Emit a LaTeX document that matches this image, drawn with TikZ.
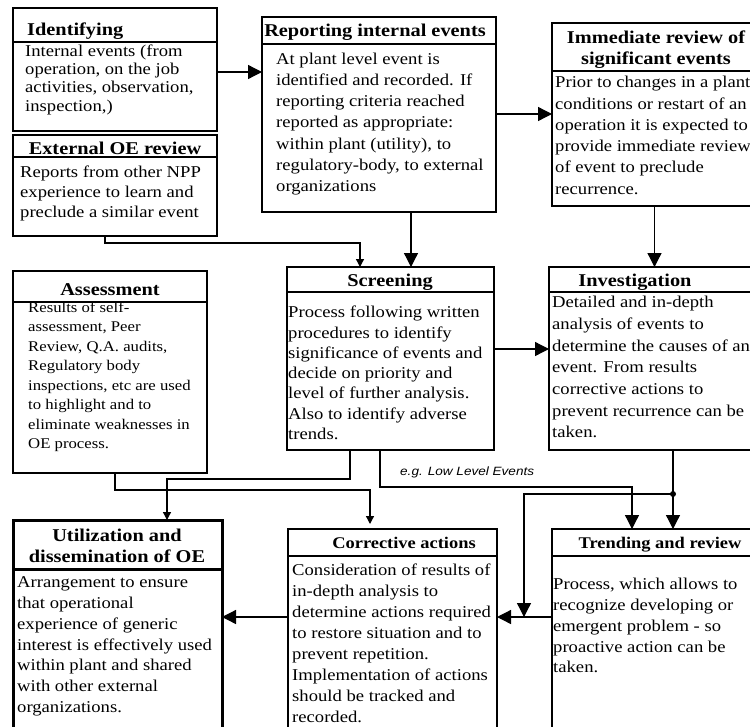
\documentclass[tikz,border=0pt]{standalone}
\usepackage{fontspec}
\setmainfont{Liberation Serif}[FakeStretch=1.13]
\setsansfont{Liberation Sans}[FakeStretch=1.13]
\usetikzlibrary{arrows.meta}
\newcommand\myfs[2]{\fontsize{#1}{#2}\selectfont}
\tikzset{
 box/.style={draw, line width=1.3pt, rectangle, anchor=north west, inner sep=0pt, outer sep=0pt},
 hd/.style={font=\myfs{18}{21.5}\bfseries, inner sep=0pt},
 hds/.style={font=\myfs{16.3}{21.5}\bfseries, inner sep=0pt},
 bd/.style={inner sep=0pt, anchor=north west, align=left},
 big/.style={-{Triangle[length=14pt,width=14pt]}, line width=1.3pt},
 small/.style={-{Triangle[length=8pt,width=8pt]}, line width=1.3pt},
 hrule/.style={line width=1.3pt}
}
\begin{document}
\begin{tikzpicture}[x=1pt,y=-1pt]
\useasboundingbox (0,0) rectangle (750,726);
\fill[white] (0,0) rectangle (750,726);
\clip (0,0) rectangle (750,726);
% boxes
\node[box, minimum width=204pt, minimum height=123pt] (ident) at (13,8) {};
\node[box, minimum width=204pt, minimum height=101pt] (ext) at (13,135) {};
\node[box, minimum width=234pt, minimum height=195pt] (rep) at (262,17) {};
\node[box, minimum width=208pt, minimum height=183pt] (imm) at (552,23) {};
\node[box, minimum width=207pt, minimum height=183pt] (scr) at (287,267) {};
\node[box, minimum width=211pt, minimum height=183pt] (inv) at (549,267) {};
\node[box, minimum width=194pt, minimum height=202pt] (ass) at (13,271) {};
\node[box, line width=3pt, minimum width=209pt, minimum height=211pt] (util) at (13,520) {};
\node[box, minimum width=209pt, minimum height=211pt] (corr) at (288,529) {};
\node[box, minimum width=208pt, minimum height=211pt] (trend) at (552,529) {};
% header rules
\draw[hrule] ([yshift=-34pt]ident.north west) -- ([yshift=-34pt]ident.north east);
\draw[hrule] ([yshift=-22pt]ext.north west) -- ([yshift=-22pt]ext.north east);
\draw[hrule] ([yshift=-27pt]rep.north west) -- ([yshift=-27pt]rep.north east);
\draw[hrule] ([yshift=-48pt]imm.north west) -- ([yshift=-48pt]imm.north east);
\draw[hrule] ([yshift=-25pt]scr.north west) -- ([yshift=-25pt]scr.north east);
\draw[hrule] ([yshift=-25pt]inv.north west) -- ([yshift=-25pt]inv.north east);
\draw[hrule] ([yshift=-31pt]ass.north west) -- ([yshift=-31pt]ass.north east);
\draw[line width=3pt] ([yshift=-49pt]util.north west) -- ([yshift=-49pt]util.north east);
\draw[hrule] ([yshift=-27pt]corr.north west) -- ([yshift=-27pt]corr.north east);
\draw[hrule] ([yshift=-27pt]trend.north west) -- ([yshift=-27pt]trend.north east);
% headers
\node[hd, anchor=base west] (identH) at (27,35) {Identifying};
\node[hd, anchor=base] (extH) at (115,154) {External OE review};
\node[hd, anchor=base] (repH) at (375,36) {Reporting internal events};
\node[hd, anchor=north, align=center] (immH) at (656,28) {\strut Immediate review of\\significant events};
\node[hd, anchor=base] (scrH) at (390,286) {Screening};
\node[hd, anchor=base] (invH) at (635,286) {Investigation};
\node[hd, anchor=base] (assH) at (110,295) {Assessment};
\node[hd, anchor=north, align=center] (utilH) at (117,526) {\strut Utilization and\\dissemination of OE};
\node[hds, anchor=base] (corrH) at (404,548) {Corrective actions};
\node[hds, anchor=base] (trendH) at (660,548) {Trending and review};
% bodies
\node[bd, font=\myfs{16.5}{18.3}] (identT) at (25,43.2) {\strut Internal events (from\\operation, on the job\\activities, observation,\\inspection,)};
\node[bd, font=\myfs{16.5}{20}] (extT) at (20,163) {\strut Reports from other NPP\\experience to learn and\\preclude a similar event};
\node[bd, font=\myfs{16.5}{21.2}] (repT) at (276,49.2) {\strut At plant level event is\\identified and recorded. If\\reporting criteria reached\\reported as appropriate:\\within plant (utility), to\\regulatory-body, to external\\organizations};
\node[bd, font=\myfs{16.5}{21.3}] (immT) at (555,72.6) {\strut Prior to changes in a plant\\conditions or restart of an\\operation it is expected to\\provide immediate review\\of event to preclude\\recurrence.};
\node[bd, font=\myfs{16.5}{20.3}] (scrT) at (288,303.3) {\strut Process following written\\procedures to identify\\significance of events and\\decide on priority and\\level of further analysis.\\Also to identify adverse\\trends.};
\node[bd, font=\myfs{16.5}{21.7}] (invT) at (552,292.3) {\strut Detailed and in-depth\\analysis of events to\\determine the causes of an\\event. From results\\corrective actions to\\prevent recurrence can be\\taken.};
\node[bd, font=\myfs{14.8}{19.5}] (assT) at (28,298.4) {\strut Results of self-\\assessment, Peer\\Review, Q.A. audits,\\Regulatory body\\inspections, etc are used\\to highlight and to\\eliminate weaknesses in\\OE process.};
\node[bd, font=\myfs{16.5}{20.8}] (utilT) at (17,573) {\strut Arrangement to ensure\\that operational\\experience of generic\\interest is effectively used\\within plant and shared\\with other external\\organizations.};
\node[bd, font=\myfs{16.5}{21}] (corrT) at (292,560.3) {\strut Consideration of results of\\in-depth analysis to\\determine actions required\\to restore situation and to\\prevent repetition.\\Implementation of actions\\should be tracked and\\recorded.};
\node[bd, font=\myfs{16.5}{20.8}] (trendT) at (553,575) {\strut Process, which allows to\\recognize developing or\\emergent problem - so\\proactive action can be\\taken.};
% label and junction
\node[font=\sffamily\itshape\myfs{12}{13}, anchor=base west, inner sep=0pt] (lbl) at (400,475) {e.g. Low Level Events};
\node[circle, fill, inner sep=0pt, minimum size=6pt] (jn) at (673,494) {};
% connectors
\draw[big] ([yshift=-64pt]ident.north east) -- ([yshift=-55pt]rep.north west);
\draw[big] ([yshift=-97pt]rep.north east) -- ([yshift=-91pt]imm.north west);
\draw[big] ([xshift=32pt]rep.south) -- ([xshift=20.5pt]scr.north);
\draw[small] ([xshift=-10pt]ext.south) |- ([xshift=-30.5pt,yshift=24pt]scr.north) -- ([xshift=-30.5pt]scr.north);
\draw[big] (imm.south -| inv.north) -- (inv.north);
\draw[big] ([yshift=9.5pt]scr.east) -- ([yshift=9.5pt]inv.west);
\draw[small] ([xshift=5pt]ass.south) |- ([xshift=-22.5pt,yshift=39pt]corr.north) -- ([xshift=-22.5pt,yshift=5pt]corr.north);
\draw[small] ([xshift=-40.5pt]scr.south) |- ([xshift=49.5pt,yshift=41pt]util.north) -- ([xshift=49.5pt]util.north);
\draw[big] ([xshift=-10.5pt]scr.south) |- ([xshift=-24pt,yshift=42pt]trend.north) -- ([xshift=-24pt]trend.north);
\draw[big] ([xshift=18.5pt]inv.south) -- (jn.center) -- (jn.center |- trend.north);
\draw[big] (jn.center) -| ([xshift=27pt,yshift=17.5pt]corr.east);
\draw[big] ([yshift=17.5pt]trend.west) -- ([yshift=17.5pt]corr.east);
\draw[big] ([yshift=17.5pt]corr.west) -- ([yshift=8.5pt]util.east);
\end{tikzpicture}
\end{document}
